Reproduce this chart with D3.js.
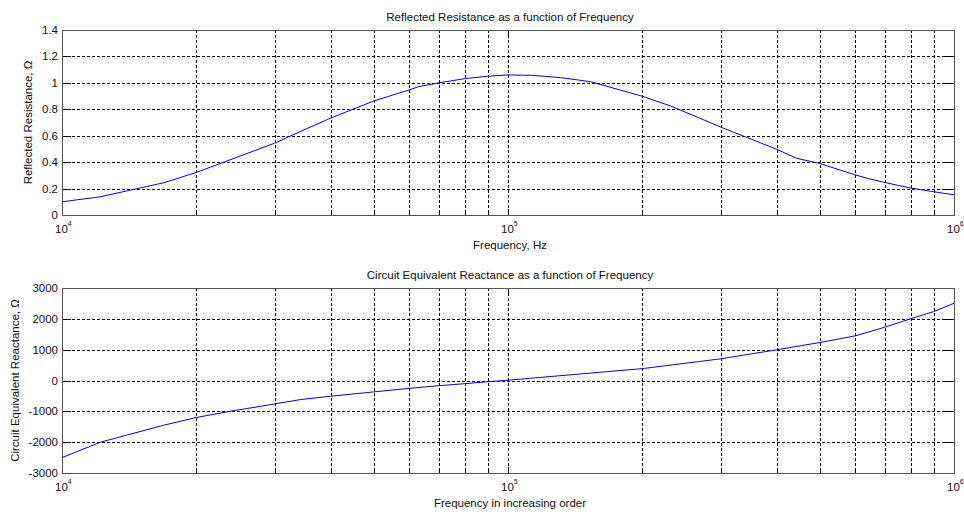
<!DOCTYPE html>
<html>
<head>
<meta charset="utf-8">
<script src="https://cdn.jsdelivr.net/npm/d3@7"></script>
<style>
  body { margin: 0; background: #fff; }
  svg { display: block; font-family: "Liberation Sans", Arial, sans-serif; }
</style>
</head>
<body>
<div id="chart"></div>
<script>
// values
const resFreq = [10000, 12200, 16900, 20000, 30000, 34200, 40000, 50000, 60000, 63000, 70000, 80000, 90000,
  100000, 113000, 131000, 153000, 200000, 231000, 269000, 300000, 400000, 443000, 500000, 600000, 645000,
  700000, 750000, 800000, 900000, 1000000];
const resistance = [0.1, 0.138, 0.244, 0.322, 0.544, 0.631, 0.733, 0.863, 0.946, 0.971, 1.0, 1.032, 1.05,
  1.06, 1.057, 1.04, 1.009, 0.899, 0.826, 0.733, 0.665, 0.498, 0.43, 0.39, 0.304, 0.274,
  0.246, 0.224, 0.204, 0.176, 0.153];

const reaFreq = [10000, 12200, 16900, 20000, 23800, 30000, 34200, 40000, 50000, 60000, 70000, 80000, 90000,
  100000, 200000, 269000, 300000, 400000, 500000, 600000, 700000, 800000, 900000, 1000000];
const reactance = [-2500, -2000, -1450, -1200, -1000, -760, -620, -510, -370, -255, -168, -103, -40,
  10, 385, 617, 704, 995, 1231, 1447, 1729, 2006, 2233, 2504];

const resTicks = [0, 0.2, 0.4, 0.6, 0.8, 1, 1.2, 1.4];
const reaTicks = [-3000, -2000, -1000, 0, 1000, 2000, 3000];
const decades = [4, 5, 6];

const width = 964, height = 515;
const fontSize = 11.5;
const svg = d3.select('#chart').append('svg')
  .attr('width', width)
  .attr('height', height);

const x = d3.scaleLog().domain([1e4, 1e6]).range([62, 954]);

const minorTicks = [];
decades.slice(0, -1).forEach(e => {
  for (let m = 1; m < 10; m++) minorTicks.push(m * Math.pow(10, e));
});
minorTicks.push(1e6);

function panel(top, bottom, yDomain, yTicks, xs, ys, title, xLabel, yLabel, yLabelX) {
  const y = d3.scaleLinear().domain(yDomain).range([bottom, top]);
  const g = svg.append('g');
  const [x0, x1] = x.range();

  // grid
  g.selectAll('.vgrid')
    .data(minorTicks.filter(d => d > 1e4 && d < 1e6))
  .enter().append('line')
    .attr('x1', d => Math.round(x(d)) + 0.5).attr('x2', d => Math.round(x(d)) + 0.5)
    .attr('y1', top).attr('y2', bottom)
    .attr('stroke', '#000').attr('stroke-dasharray', '3,2');

  g.selectAll('.hgrid')
    .data(yTicks.slice(1, -1))
  .enter().append('line')
    .attr('x1', x0).attr('x2', x1)
    .attr('y1', d => Math.round(y(d)) + 0.5).attr('y2', d => Math.round(y(d)) + 0.5)
    .attr('stroke', '#000').attr('stroke-dasharray', '3,2');

  // ticks (inside, on all four sides)
  minorTicks.forEach(d => {
    const major = Number.isInteger(Math.log10(d));
    const len = major ? 6 : 3;
    const px = Math.round(x(d)) + 0.5;
    g.append('line').attr('x1', px).attr('x2', px).attr('y1', bottom).attr('y2', bottom - len).attr('stroke', '#000');
    g.append('line').attr('x1', px).attr('x2', px).attr('y1', top).attr('y2', top + len).attr('stroke', '#000');
  });
  yTicks.forEach(d => {
    const py = Math.round(y(d)) + 0.5;
    g.append('line').attr('x1', x0).attr('x2', x0 + 9).attr('y1', py).attr('y2', py).attr('stroke', '#000');
    g.append('line').attr('x1', x1).attr('x2', x1 - 9).attr('y1', py).attr('y2', py).attr('stroke', '#000');
  });

  // box
  g.append('rect')
    .attr('x', x0 + 0.5).attr('y', top + 0.5)
    .attr('width', x1 - x0).attr('height', bottom - top)
    .attr('fill', 'none').attr('stroke', '#555');

  // curve
  const line = d3.line()
    .x((d, i) => x(xs[i]))
    .y(d => y(d));
  g.append('path')
    .datum(ys)
    .attr('d', line)
    .attr('fill', 'none')
    .attr('stroke', '#0000ff')
    .attr('stroke-width', 1);

  // y tick labels
  g.selectAll('.ylab')
    .data(yTicks)
  .enter().append('text')
    .attr('x', x0 - 4)
    .attr('y', d => y(d) + 4)
    .attr('text-anchor', 'end')
    .attr('font-size', fontSize)
    .attr('fill', '#111')
    .text(d => d);

  // x tick labels 10^n
  decades.forEach(e => {
    const t = g.append('text')
      .attr('x', x(Math.pow(10, e)) - 7)
      .attr('y', bottom + 18)
      .attr('font-size', fontSize)
      .attr('fill', '#111');
    t.append('tspan').text('10');
    t.append('tspan').attr('dy', -7).attr('font-size', 7).text(e);
  });

  g.append('text')
    .attr('x', (x0 + x1) / 2 + 2)
    .attr('y', top - 9)
    .attr('text-anchor', 'middle')
    .attr('font-size', fontSize)
    .attr('fill', '#111')
    .text(title);

  g.append('text')
    .attr('x', (x0 + x1) / 2 + 2)
    .attr('y', bottom + 34)
    .attr('text-anchor', 'middle')
    .attr('font-size', fontSize)
    .attr('fill', '#111')
    .text(xLabel);

  g.append('text')
    .attr('transform', `translate(${yLabelX}, ${(top + bottom) / 2}) rotate(-90)`)
    .attr('text-anchor', 'middle')
    .attr('font-size', fontSize)
    .attr('fill', '#111')
    .text(yLabel);
}

panel(30, 215, [0, 1.4], resTicks, resFreq, resistance,
  'Reflected Resistance as a function of Frequency', 'Frequency, Hz', 'Reflected Resistance, \u03A9', 32);
panel(288, 473, [-3000, 3000], reaTicks, reaFreq, reactance,
  'Circuit Equivalent Reactance as a function of Frequency', 'Frequency in increasing order', 'Circuit Equivalent Reactance, \u03A9', 19);
</script>
</body>
</html>
